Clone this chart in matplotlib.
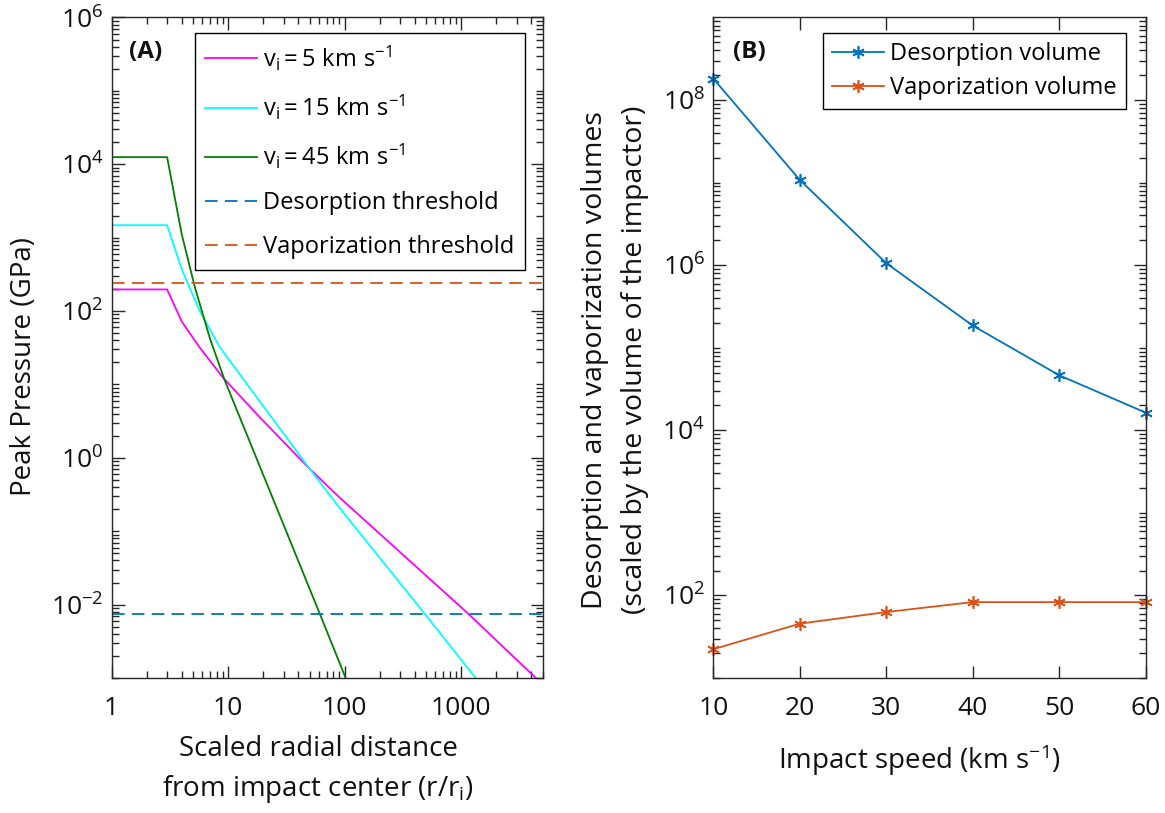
import numpy as np
import matplotlib
matplotlib.use('Agg')
import matplotlib.pyplot as plt
from matplotlib.ticker import FixedLocator, FuncFormatter, NullFormatter

# ---------- data ----------
# (A) peak pressure vs scaled radial distance
r_v5 = [1, 3.0, 4.0, 5.7, 9.0, 18.6, 50, 90, 1140, 4370]
p_v5 = [197, 197, 72, 32, 12.5, 3.6, 0.71, 0.29, 0.0076, 0.001]
r_v15 = [1, 3.0, 4.0, 5.7, 8.5, 13.8, 50, 90, 483, 1330]
p_v15 = [1480, 1480, 372, 101, 32, 11.3, 0.71, 0.21, 0.0076, 0.001]
r_v45 = [1, 3.0, 4.0, 5.2, 7.0, 9.3, 61, 102]
p_v45 = [12500, 12500, 1120, 209, 42, 11.7, 0.0076, 0.001]
desorption_threshold = 0.0075
vaporization_threshold = 240

# (B) volumes vs impact speed
speed = [10, 20, 30, 40, 50, 60]
desorption_vol = [1.82e8, 1.08e7, 1.06e6, 1.86e5, 4.65e4, 1.64e4]
vaporization_vol = [22.3, 45.5, 62.9, 83, 83, 83]

# ---------- style ----------
plt.rcParams['font.family'] = ['Open Sans', 'DejaVu Sans']
plt.rcParams['mathtext.fontset'] = 'custom'
plt.rcParams['mathtext.rm'] = 'Open Sans'
plt.rcParams['mathtext.it'] = 'Open Sans:italic'
plt.rcParams['mathtext.bf'] = 'Open Sans:bold'

AX_C = '#262626'
TXT = '#111111'
BLUE = '#0072BD'
ORANGE = '#D95319'

W, H = 1165, 813
fig = plt.figure(figsize=(W / 100, H / 100), dpi=100)


def px_axes(x0, y0, x1, y1):
    return fig.add_axes([x0 / W, 1 - y1 / H, (x1 - x0) / W, (y1 - y0) / H])


def style_axes(ax):
    for s in ax.spines.values():
        s.set_color(AX_C)
        s.set_linewidth(1.0)
    ax.tick_params(which='both', direction='in', top=True, right=True,
                   color=AX_C, width=1.0, labelcolor=TXT, labelsize=19)
    ax.tick_params(which='major', length=9)
    ax.tick_params(which='minor', length=4.8)
    ax.tick_params(axis='x', pad=13)
    ax.tick_params(axis='y', pad=6)


def log_minor(lo, hi, majors):
    vals = []
    for n in range(lo, hi + 1):
        for k in range(1, 10):
            v = k * 10.0 ** n
            if not any(np.isclose(v, m) for m in majors):
                vals.append(v)
    return vals


pow_fmt = FuncFormatter(lambda v, p: r'$\mathregular{10^{%d}}$' % int(round(np.log10(v))))

# ---------- (A) ----------
axA = px_axes(111.5, 17.5, 542.7, 678)
axA.plot(r_v5, p_v5, color='#FF00FF', lw=1.3, label=r'$\mathregular{v_i = 5\ km\ s^{-1}}$')
axA.plot(r_v15, p_v15, color='#00FFFF', lw=1.3, label=r'$\mathregular{v_i = 15\ km\ s^{-1}}$')
axA.plot(r_v45, p_v45, color='#008000', lw=1.3, label=r'$\mathregular{v_i = 45\ km\ s^{-1}}$')
axA.axhline(desorption_threshold, color=BLUE, lw=1.3, dashes=(7, 4), label='Desorption threshold')
axA.axhline(vaporization_threshold, color=ORANGE, lw=1.3, dashes=(7, 4), label='Vaporization threshold')
axA.set_xscale('log')
axA.set_yscale('log')
axA.set_xlim(1, 5000)
axA.set_ylim(1e-3, 1e6)
style_axes(axA)
xmajA = [1, 10, 100, 1000]
axA.xaxis.set_major_locator(FixedLocator(xmajA))
axA.xaxis.set_minor_locator(FixedLocator([v for v in log_minor(0, 3, xmajA) if v <= 5000]))
axA.xaxis.set_major_formatter(FuncFormatter(lambda v, p: '%d' % v))
axA.xaxis.set_minor_formatter(NullFormatter())
ymajA = [1e-2, 1e0, 1e2, 1e4, 1e6]
axA.yaxis.set_major_locator(FixedLocator(ymajA))
axA.yaxis.set_minor_locator(FixedLocator(log_minor(-3, 5, ymajA)))
axA.yaxis.set_major_formatter(pow_fmt)
axA.yaxis.set_minor_formatter(NullFormatter())
legA = axA.legend(loc='upper right', bbox_to_anchor=(0.959, 0.9765), borderaxespad=0,
                  fontsize=17, handlelength=2.2, handletextpad=0.25, labelspacing=0.85,
                  borderpad=0.45, fancybox=False, framealpha=1, edgecolor='black')
legA.get_frame().set_linewidth(1.0)
axA.text(0.0406, 0.948, '(A)', transform=axA.transAxes, fontsize=17.5,
         fontweight='bold', ha='left', va='center', color=TXT)

# ---------- (B) ----------
axB = px_axes(713.3, 17.5, 1145.5, 678)
axB.plot(speed, desorption_vol, color=BLUE, lw=1.3, marker=(6, 2, 0), ms=9,
         mew=1.2, label='Desorption volume', clip_on=False)
axB.plot(speed, vaporization_vol, color=ORANGE, lw=1.3, marker=(6, 2, 0), ms=9,
         mew=1.2, label='Vaporization volume', clip_on=False)
axB.set_yscale('log')
axB.set_xlim(10, 60)
axB.set_ylim(1e1, 1e9)
style_axes(axB)
axB.xaxis.set_major_locator(FixedLocator(speed))
ymajB = [1e2, 1e4, 1e6, 1e8]
axB.yaxis.set_major_locator(FixedLocator(ymajB))
axB.yaxis.set_minor_locator(FixedLocator(log_minor(1, 8, ymajB)))
axB.yaxis.set_major_formatter(pow_fmt)
axB.yaxis.set_minor_formatter(NullFormatter())
legB = axB.legend(loc='upper right', bbox_to_anchor=(0.955, 0.9765), borderaxespad=0,
                  fontsize=17, handlelength=2.2, handletextpad=0.25, labelspacing=0.4,
                  borderpad=0.4, fancybox=False, framealpha=1, edgecolor='black')
legB.get_frame().set_linewidth(1.0)
axB.text(0.0449, 0.948, '(B)', transform=axB.transAxes, fontsize=17.5,
         fontweight='bold', ha='left', va='center', color=TXT)

# ---------- labels ----------
fig.text(24 / W, 1 - 366 / H, 'Peak Pressure (GPa)', rotation=90, fontsize=20,
         ha='center', va='center', color=TXT)
fig.text(318 / W, 1 - 770 / H, 'Scaled radial distance\nfrom impact center (r/r$\\mathregular{_i}$)',
         fontsize=20, ha='center', va='center', multialignment='center', color=TXT,
         linespacing=1.4)
fig.text(615 / W, 1 - 360 / H,
         'Desorption and vaporization volumes\n(scaled by the volume of the impactor)',
         rotation=90, fontsize=20.5, ha='center', va='center', multialignment='center',
         color=TXT, linespacing=1.6)
fig.text(919 / W, 1 - 760 / H, 'Impact speed (km s$\\mathregular{^{-1}}$)', fontsize=20,
         ha='center', va='center', color=TXT)

fig.savefig('out.png', dpi=100)
